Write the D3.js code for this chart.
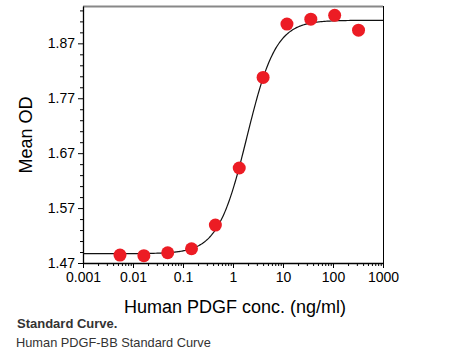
<!DOCTYPE html>
<html>
<head>
<meta charset="utf-8">
<script src="https://cdn.jsdelivr.net/npm/d3@7"></script>
<style>
  body { margin: 0; background: #fff; font-family: "Liberation Sans", Arial, sans-serif; }
  .cap1 { position: absolute; left: 17px; top: 316px; font: bold 13px "Liberation Sans", Arial, sans-serif; color: #333; }
  .cap2 { position: absolute; left: 16px; top: 335px; font: 12.8px "Liberation Sans", Arial, sans-serif; color: #333; }
</style>
</head>
<body>
<div id="chart"></div>
<div class="cap1">Standard Curve.</div>
<div class="cap2">Human PDGF-BB Standard Curve</div>
<script>
// standard concentrations (ng/ml), 3-fold dilutions
var conc = [0.00549, 0.0165, 0.0494, 0.148, 0.444, 1.333, 4, 12, 36, 108, 324];
var meanOD = [1.4845, 1.4833, 1.4887, 1.496, 1.539, 1.643, 1.808, 1.905, 1.914, 1.921, 1.894];

// 4-parameter logistic fit
var fitBottom = 1.487, fitTop = 1.912, fitEC50 = 1.9, fitHill = 1.5;

var xTicks = [0.001, 0.01, 0.1, 1, 10, 100, 1000];
var yTicks = [1.47, 1.57, 1.67, 1.77, 1.87];

var w = 459, h = 318;
var padL = 83, padR = 383, padT = 6, padB = 263;

var x = d3.scaleLog().domain([0.001, 1000]).range([padL, padR]);
var y = d3.scaleLinear().domain([1.47, 1.938]).range([padB, padT]);

var svg = d3.select("#chart").append("svg")
    .attr("width", w)
    .attr("height", h)
    .style("position", "absolute")
    .style("left", 0).style("top", 0);

// frame: gray top, black right
svg.append("line")
    .attr("x1", padL).attr("x2", padR)
    .attr("y1", padT + 0.5).attr("y2", padT + 0.5)
    .attr("stroke", "#888").attr("stroke-width", 2);
svg.append("line")
    .attr("x1", padR + 0.5).attr("x2", padR + 0.5)
    .attr("y1", padT).attr("y2", padB)
    .attr("stroke", "#000").attr("stroke-width", 1);

// minor ticks
var xMinor = [];
for (var e = -3; e < 3; e++) {
  for (var k = 2; k <= 9; k++) xMinor.push(k * Math.pow(10, e));
}
var yMinor = d3.range(1.49, 1.938, 0.02).filter(function(v) {
  return Math.abs((v - 1.47) / 0.1 - Math.round((v - 1.47) / 0.1)) > 0.01;
});

svg.append("g")
    .attr("transform", "translate(0," + padB + ")")
    .call(d3.axisBottom(x).tickValues(xMinor).tickSize(3).tickFormat(""))
    .call(function(g) { g.select(".domain").remove(); });

svg.append("g")
    .attr("transform", "translate(" + padL + ",0)")
    .call(d3.axisLeft(y).tickValues(yMinor).tickSize(3).tickFormat(""))
    .call(function(g) { g.select(".domain").remove(); });

var xAxis = svg.append("g")
    .attr("transform", "translate(0," + padB + ")")
    .call(d3.axisBottom(x).tickValues(xTicks).tickSize(5).tickSizeOuter(0)
      .tickFormat(function(d) { return String(d); }));

var yAxis = svg.append("g")
    .attr("transform", "translate(" + padL + ",0)")
    .call(d3.axisLeft(y).tickValues(yTicks).tickSize(5).tickSizeOuter(0)
      .tickFormat(d3.format(".2f")));

svg.selectAll(".tick text")
    .attr("font-family", "Liberation Sans, Arial, sans-serif")
    .attr("font-size", "14px")
    .attr("fill", "#000");
xAxis.selectAll(".tick text").attr("y", 9).attr("dy", "0.71em");
yAxis.selectAll(".tick text").attr("x", -8);
svg.selectAll(".domain").attr("stroke-width", 1.3);

// fitted curve
var curveX = d3.range(-3, 3.001, 0.02).map(function(e) { return Math.pow(10, e); });
var line = d3.line()
    .x(function(d) { return x(d); })
    .y(function(d) {
      return y(fitBottom + (fitTop - fitBottom) / (1 + Math.pow(fitEC50 / d, fitHill)));
    });
svg.append("path")
    .datum(curveX)
    .attr("d", line)
    .attr("fill", "none")
    .attr("stroke", "#111")
    .attr("stroke-width", 1.2);

// points
svg.selectAll("circle.pt")
    .data(conc)
    .enter()
    .append("circle")
    .attr("class", "pt")
    .attr("cx", function(d) { return x(d); })
    .attr("cy", function(d, i) { return y(meanOD[i]); })
    .attr("r", 6.5)
    .attr("fill", "#ec1c24");

// axis labels
svg.append("text")
    .attr("text-anchor", "middle")
    .attr("x", 235)
    .attr("y", 313)
    .attr("font-size", "18px")
    .attr("font-family", "Liberation Sans, Arial, sans-serif")
    .text("Human PDGF conc. (ng/ml)");

svg.append("text")
    .attr("text-anchor", "middle")
    .attr("transform", "rotate(-90)")
    .attr("x", -135)
    .attr("y", 32)
    .attr("font-size", "18px")
    .attr("font-family", "Liberation Sans, Arial, sans-serif")
    .text("Mean OD");
</script>
</body>
</html>
